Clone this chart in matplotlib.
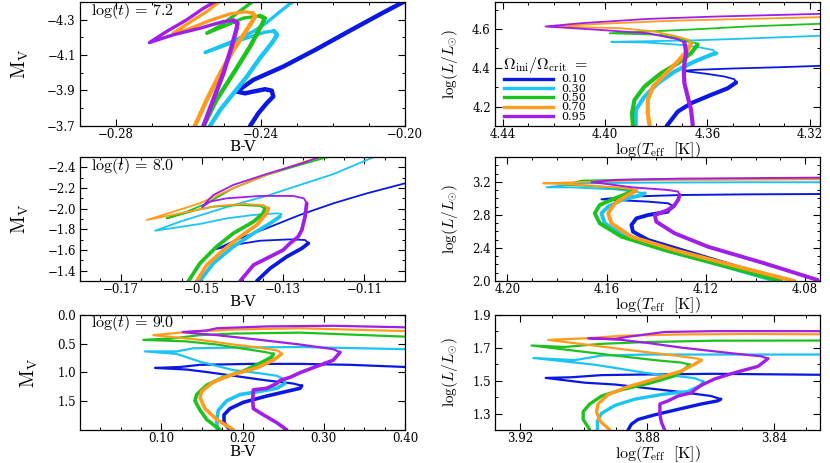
import matplotlib
matplotlib.use("Agg")
import matplotlib.pyplot as plt
from matplotlib.lines import Line2D
from matplotlib.ticker import MultipleLocator, FuncFormatter

plt.rcParams['font.family'] = ['DejaVu Serif']
plt.rcParams['mathtext.fontset'] = 'cm'

omegas = ['0.10', '0.30', '0.50', '0.70', '0.95']
colors = ['#0b19e0', '#1cc4f4', '#1ec21e', '#ff9c1e', '#a01ee6']

# log(t) = 7.2, colour-magnitude diagram (one list per Omega)
cmd72_bv = [
    [-0.2429, -0.2406, -0.2383, -0.2365, -0.2369, -0.2388, -0.2420, -0.2443, -0.2466, -0.2420, -0.2337, -0.2245, -0.2152, -0.2060, -0.2000],
    [-0.2540, -0.2512, -0.2475, -0.2438, -0.2402, -0.2369, -0.2354, -0.2363, -0.2388, -0.2475, -0.2554, -0.2475, -0.2420, -0.2383, -0.2346, -0.2305],
    [-0.2558, -0.2522, -0.2475, -0.2429, -0.2397, -0.2388, -0.2402, -0.2448, -0.2503, -0.2549, -0.2512, -0.2475, -0.2438, -0.2415],
    [-0.2582, -0.2549, -0.2512, -0.2475, -0.2438, -0.2415, -0.2422, -0.2443, -0.2485, -0.2540, -0.2605, -0.2642, -0.2586, -0.2549, -0.2508],
    [-0.2558, -0.2531, -0.2503, -0.2480, -0.2466, -0.2464, -0.2475, -0.2503, -0.2568, -0.2642, -0.2708, -0.2660, -0.2605, -0.2558, -0.2517],
]
cmd72_mv = [
    [-3.700, -3.772, -3.828, -3.866, -3.899, -3.907, -3.894, -3.884, -3.894, -3.960, -4.035, -4.133, -4.238, -4.340, -4.404],
    [-3.700, -3.790, -3.884, -3.978, -4.082, -4.167, -4.214, -4.236, -4.229, -4.172, -4.114, -4.180, -4.233, -4.283, -4.345, -4.411],
    [-3.700, -3.847, -3.997, -4.148, -4.270, -4.308, -4.321, -4.308, -4.261, -4.223, -4.265, -4.321, -4.377, -4.411],
    [-3.700, -3.847, -3.997, -4.129, -4.242, -4.317, -4.336, -4.344, -4.332, -4.295, -4.242, -4.223, -4.298, -4.345, -4.411],
    [-3.700, -3.847, -3.997, -4.148, -4.251, -4.280, -4.295, -4.289, -4.251, -4.214, -4.170, -4.233, -4.298, -4.364, -4.411],
]

# log(t) = 7.2, HR diagram
hrd72_teff = [
    [4.3759, 4.3716, 4.3664, 4.3586, 4.3521, 4.3488, 4.3495, 4.3534, 4.3599, 4.3664, 4.3696, 4.3651, 4.3508, 4.3313, 4.3160],
    [4.3880, 4.3880, 4.3846, 4.3794, 4.3729, 4.3651, 4.3586, 4.3566, 4.3579, 4.3625, 4.3703, 4.3833, 4.3976, 4.3833, 4.3638, 4.3443, 4.3160],
    [4.3891, 4.3895, 4.3885, 4.3846, 4.3781, 4.3716, 4.3664, 4.3638, 4.3644, 4.3677, 4.3716, 4.3781, 4.3982, 4.3833, 4.3638, 4.3443, 4.3160],
    [4.3826, 4.3833, 4.3833, 4.3813, 4.3768, 4.3716, 4.3677, 4.3664, 4.3674, 4.3716, 4.3807, 4.3937, 4.4222, 4.3963, 4.3703, 4.3443, 4.3160],
    [4.3657, 4.3664, 4.3677, 4.3690, 4.3692, 4.3690, 4.3683, 4.3687, 4.3690, 4.3716, 4.3833, 4.4027, 4.4233, 4.4092, 4.3833, 4.3573, 4.3160],
]
hrd72_lum = [
    [4.100, 4.174, 4.217, 4.260, 4.294, 4.324, 4.341, 4.355, 4.368, 4.379, 4.384, 4.389, 4.396, 4.403, 4.410],
    [4.100, 4.183, 4.251, 4.320, 4.380, 4.432, 4.467, 4.475, 4.492, 4.504, 4.518, 4.530, 4.534, 4.537, 4.542, 4.551, 4.565],
    [4.100, 4.165, 4.234, 4.303, 4.372, 4.423, 4.475, 4.520, 4.527, 4.535, 4.553, 4.570, 4.578, 4.587, 4.599, 4.613, 4.627],
    [4.100, 4.165, 4.234, 4.303, 4.363, 4.432, 4.492, 4.527, 4.544, 4.561, 4.587, 4.604, 4.613, 4.630, 4.644, 4.652, 4.661],
    [4.100, 4.183, 4.251, 4.320, 4.380, 4.423, 4.475, 4.510, 4.530, 4.547, 4.578, 4.596, 4.613, 4.630, 4.652, 4.664, 4.678],
]

# log(t) = 8.0
cmd80_bv = [
    [-0.1365, -0.1332, -0.1291, -0.1254, -0.1238, -0.1246, -0.1283, -0.1357, -0.1423, -0.1464, -0.1406, -0.1341, -0.1259, -0.1176, -0.1094, -0.1000],
    [-0.1505, -0.1472, -0.1423, -0.1373, -0.1332, -0.1308, -0.1304, -0.1316, -0.1373, -0.1439, -0.1505, -0.1615, -0.1554, -0.1488, -0.1423, -0.1341, -0.1259, -0.1176, -0.1078],
    [-0.1533, -0.1505, -0.1464, -0.1423, -0.1373, -0.1349, -0.1345, -0.1357, -0.1406, -0.1472, -0.1513, -0.1587, -0.1537, -0.1488, -0.1423, -0.1341, -0.1259, -0.1189],
    [-0.1513, -0.1488, -0.1447, -0.1406, -0.1365, -0.1341, -0.1336, -0.1349, -0.1398, -0.1464, -0.1513, -0.1636, -0.1570, -0.1505, -0.1423, -0.1341, -0.1259, -0.1209],
    [-0.1406, -0.1390, -0.1373, -0.1332, -0.1300, -0.1283, -0.1263, -0.1254, -0.1246, -0.1242, -0.1249, -0.1275, -0.1357, -0.1439, -0.1480, -0.1500, -0.1484, -0.1472, -0.1423, -0.1341, -0.1259, -0.1209],
]
cmd80_mv = [
    [-1.300, -1.423, -1.536, -1.616, -1.665, -1.697, -1.703, -1.690, -1.648, -1.610, -1.713, -1.810, -1.939, -2.052, -2.148, -2.245],
    [-1.300, -1.471, -1.632, -1.761, -1.858, -1.923, -1.948, -1.955, -1.939, -1.906, -1.852, -1.787, -1.874, -1.955, -2.035, -2.123, -2.229, -2.335, -2.497],
    [-1.300, -1.471, -1.632, -1.761, -1.874, -1.955, -2.003, -2.026, -2.035, -2.019, -1.987, -1.906, -1.971, -2.052, -2.197, -2.326, -2.423, -2.500],
    [-1.300, -1.455, -1.600, -1.729, -1.842, -1.955, -2.003, -2.035, -2.045, -2.026, -1.987, -1.890, -1.971, -2.052, -2.197, -2.326, -2.439, -2.500],
    [-1.300, -1.374, -1.455, -1.536, -1.600, -1.665, -1.729, -1.794, -1.923, -2.052, -2.100, -2.123, -2.123, -2.100, -2.068, -2.013, -2.084, -2.132, -2.229, -2.335, -2.432, -2.500],
]
hrd80_teff = [
    [4.0903, 4.1098, 4.1299, 4.1433, 4.1494, 4.1500, 4.1480, 4.1433, 4.1353, 4.1326, 4.1353, 4.1433, 4.1567, 4.1621, 4.1514, 4.1299, 4.1031, 4.0739],
    [4.0917, 4.1165, 4.1366, 4.1527, 4.1608, 4.1621, 4.1594, 4.1540, 4.1460, 4.1447, 4.1487, 4.1567, 4.1742, 4.1842, 4.1701, 4.1433, 4.1031, 4.0739],
    [4.0897, 4.1165, 4.1366, 4.1540, 4.1628, 4.1648, 4.1628, 4.1567, 4.1514, 4.1494, 4.1527, 4.1621, 4.1762, 4.1701, 4.1433, 4.0739],
    [4.0843, 4.1098, 4.1326, 4.1500, 4.1581, 4.1594, 4.1567, 4.1514, 4.1480, 4.1500, 4.1567, 4.1742, 4.1856, 4.1634, 4.1433, 4.0739],
    [4.0749, 4.0964, 4.1192, 4.1326, 4.1400, 4.1406, 4.1353, 4.1326, 4.1312, 4.1306, 4.1312, 4.1353, 4.1500, 4.1621, 4.1661, 4.1567, 4.1299, 4.0739],
]
hrd80_lum = [
    [2.000, 2.194, 2.375, 2.496, 2.597, 2.678, 2.758, 2.798, 2.839, 2.899, 2.940, 2.960, 2.980, 2.988, 3.020, 3.040, 3.048, 3.052],
    [2.000, 2.214, 2.375, 2.536, 2.698, 2.819, 2.899, 2.980, 3.040, 3.061, 3.081, 3.109, 3.133, 3.133, 3.182, 3.190, 3.194, 3.194],
    [2.000, 2.214, 2.375, 2.536, 2.698, 2.819, 2.919, 3.000, 3.061, 3.089, 3.109, 3.141, 3.165, 3.214, 3.230, 3.234],
    [2.000, 2.194, 2.375, 2.536, 2.698, 2.819, 2.940, 3.040, 3.093, 3.113, 3.133, 3.169, 3.182, 3.202, 3.222, 3.230],
    [2.012, 2.214, 2.415, 2.577, 2.718, 2.798, 2.859, 2.919, 2.980, 3.040, 3.081, 3.101, 3.133, 3.182, 3.194, 3.222, 3.238, 3.250],
]

# log(t) = 9.0
cmd90_bv = [
    [0.1846, 0.1772, 0.1772, 0.1846, 0.2010, 0.2297, 0.2544, 0.2708, 0.2728, 0.2626, 0.2297, 0.1887, 0.1559, 0.1313, 0.0923, 0.1231, 0.1477, 0.2092, 0.2708, 0.3323, 0.4012],
    [0.1690, 0.1682, 0.1703, 0.1805, 0.1969, 0.2215, 0.2421, 0.2523, 0.2503, 0.2421, 0.2215, 0.1887, 0.1477, 0.1190, 0.0800, 0.1190, 0.1395, 0.1887, 0.2708, 0.4012],
    [0.1723, 0.1559, 0.1477, 0.1415, 0.1436, 0.1559, 0.1764, 0.2010, 0.2215, 0.2359, 0.2380, 0.2297, 0.2051, 0.1682, 0.1313, 0.0779, 0.1149, 0.1477, 0.1887, 0.2708, 0.4012],
    [0.1887, 0.1682, 0.1538, 0.1477, 0.1497, 0.1641, 0.1887, 0.2174, 0.2380, 0.2482, 0.2441, 0.2215, 0.1887, 0.1477, 0.0903, 0.1313, 0.1887, 0.2708, 0.4012],
    [0.2544, 0.2421, 0.2256, 0.2133, 0.2125, 0.2133, 0.2297, 0.2421, 0.2462, 0.2585, 0.2708, 0.2913, 0.3118, 0.3200, 0.3118, 0.2708, 0.2215, 0.1682, 0.1313, 0.1264, 0.1559, 0.1682, 0.2297, 0.3118, 0.4012],
]
cmd90_mv = [
    [1.995, 1.870, 1.734, 1.626, 1.518, 1.409, 1.328, 1.274, 1.230, 1.192, 1.138, 1.057, 0.992, 0.949, 0.921, 0.905, 0.867, 0.851, 0.851, 0.867, 0.905],
    [1.995, 1.816, 1.653, 1.491, 1.382, 1.328, 1.274, 1.192, 1.111, 1.057, 1.014, 0.959, 0.813, 0.678, 0.634, 0.634, 0.580, 0.569, 0.558, 0.596],
    [1.995, 1.816, 1.653, 1.491, 1.382, 1.220, 1.084, 0.976, 0.840, 0.732, 0.678, 0.650, 0.596, 0.515, 0.461, 0.434, 0.407, 0.352, 0.325, 0.309, 0.379],
    [1.995, 1.816, 1.626, 1.436, 1.328, 1.165, 1.030, 0.921, 0.786, 0.678, 0.623, 0.569, 0.515, 0.434, 0.352, 0.298, 0.255, 0.233, 0.282],
    [1.995, 1.870, 1.734, 1.626, 1.491, 1.301, 1.274, 1.192, 1.138, 1.084, 1.003, 0.894, 0.786, 0.650, 0.596, 0.515, 0.434, 0.352, 0.309, 0.298, 0.271, 0.233, 0.201, 0.190, 0.217],
]
hrd90_teff = [
    [3.8860, 3.8850, 3.8829, 3.8776, 3.8692, 3.8629, 3.8577, 3.8568, 3.8598, 3.8692, 3.8797, 3.8902, 3.8997, 3.9120, 3.9039, 3.8944, 3.8797, 3.8587, 3.8253],
    [3.8957, 3.8957, 3.8944, 3.8902, 3.8839, 3.8755, 3.8671, 3.8629, 3.8624, 3.8650, 3.8713, 3.8797, 3.8902, 3.8965, 3.9159, 3.9028, 3.8944, 3.8797, 3.8587, 3.8253],
    [3.8981, 3.9002, 3.9002, 3.8981, 3.8944, 3.8881, 3.8797, 3.8713, 3.8676, 3.8666, 3.8692, 3.8776, 3.8902, 3.9028, 3.9165, 3.9060, 3.8944, 3.8797, 3.8587, 3.8253],
    [3.8918, 3.8949, 3.8960, 3.8955, 3.8923, 3.8860, 3.8776, 3.8692, 3.8645, 3.8629, 3.8640, 3.8713, 3.8839, 3.8955, 3.9112, 3.8986, 3.8881, 3.8692, 3.8482, 3.8253],
    [3.8745, 3.8755, 3.8760, 3.8760, 3.8734, 3.8703, 3.8661, 3.8650, 3.8629, 3.8587, 3.8524, 3.8451, 3.8419, 3.8440, 3.8535, 3.8692, 3.8797, 3.8881, 3.8986, 3.8902, 3.8860, 3.8745, 3.8587, 3.8253],
]
hrd90_lum = [
    [1.202, 1.236, 1.265, 1.293, 1.331, 1.359, 1.378, 1.388, 1.407, 1.431, 1.454, 1.477, 1.488, 1.517, 1.521, 1.534, 1.538, 1.542, 1.536],
    [1.202, 1.255, 1.302, 1.350, 1.388, 1.416, 1.435, 1.473, 1.496, 1.515, 1.530, 1.545, 1.578, 1.597, 1.638, 1.625, 1.653, 1.659, 1.659, 1.659],
    [1.202, 1.265, 1.312, 1.359, 1.407, 1.445, 1.483, 1.530, 1.578, 1.597, 1.610, 1.625, 1.653, 1.682, 1.714, 1.705, 1.724, 1.735, 1.743, 1.744],
    [1.202, 1.255, 1.312, 1.359, 1.416, 1.464, 1.511, 1.559, 1.606, 1.625, 1.634, 1.653, 1.682, 1.710, 1.748, 1.758, 1.773, 1.781, 1.784, 1.782],
    [1.202, 1.246, 1.293, 1.359, 1.378, 1.407, 1.426, 1.445, 1.473, 1.511, 1.549, 1.587, 1.634, 1.648, 1.667, 1.701, 1.729, 1.748, 1.758, 1.754, 1.767, 1.796, 1.801, 1.801],
]

# number of points drawn thick (main sequence up to the turn-off hook)
splits72c = [15, 8, 7, 7, 7]
splits72h = [6, 8, 8, 8, 9]
splits80c = [5, 6, 7, 7, 10]
splits80h = [9, 10, 10, 9, 10]
splits90c = [9, 8, 11, 10, 14]
splits90h = [8, 9, 10, 10, 13]

fig = plt.figure(figsize=(8.3, 4.63), dpi=100)

left_x, right_x, w = 0.0964, 0.5964, 0.3916
row_b = [0.728, 0.393, 0.071]
row_h = [0.268, 0.268, 0.249]


def fmt(decimals):
    return FuncFormatter(lambda v, pos: f'{v:.{decimals}f}'.replace('-', '\u2212'))


def draw(ax, xs, ys, splits, lw_thick, lw_thin):
    for x, y, n, c in zip(xs, ys, splits, colors):
        ax.plot(x[n - 1:], y[n - 1:], color=c, lw=lw_thin, solid_joinstyle='round', solid_capstyle='round')
        ax.plot(x[:n], y[:n], color=c, lw=lw_thick, solid_joinstyle='round', solid_capstyle='round')


def style(ax, xlim, ylim, xmaj, xmin, ymaj, ymin):
    ax.set_xlim(*xlim)
    ax.set_ylim(*ylim)
    ax.xaxis.set_major_locator(MultipleLocator(xmaj))
    ax.xaxis.set_minor_locator(MultipleLocator(xmin))
    ax.yaxis.set_major_locator(MultipleLocator(ymaj))
    if ymin:
        ax.yaxis.set_minor_locator(MultipleLocator(ymin))
    ax.xaxis.set_major_formatter(fmt(2))
    ax.yaxis.set_major_formatter(fmt(1))
    ax.tick_params(which='both', direction='in', top=True, right=True, labelsize=8.5)
    ax.tick_params(axis='x', pad=1.5)
    ax.tick_params(axis='y', pad=3)
    ax.tick_params(which='major', length=5, width=0.8)
    ax.tick_params(which='minor', length=2.5, width=0.7)
    for s in ax.spines.values():
        s.set_linewidth(0.9)


def cmd_labels(ax, age):
    ax.set_xlabel('B-V', fontsize=11, labelpad=-0.5)
    ax.set_ylabel(r'$\mathrm{M_V}$', fontsize=14, labelpad=12)
    ax.text(0.035, 0.925, r'$\log(t)\,=\,' + age + '$', transform=ax.transAxes, fontsize=11.5, va='center')


def hrd_labels(ax):
    ax.set_xlabel(r'$\log(T_{\mathrm{eff}}\ \ [\mathrm{K}])$', fontsize=11.5, labelpad=-1)
    ax.set_ylabel(r'$\log(L/L_{\odot})$', fontsize=11, labelpad=9)


ax1 = fig.add_axes([left_x, row_b[0], w, row_h[0]])
draw(ax1, cmd72_bv, cmd72_mv, splits72c, 3.2, 2.4)
style(ax1, (-0.29, -0.20), (-3.7, -4.4), 0.04, 0.01, 0.2, 0.1)
ax1.set_yticks([-4.3, -4.1, -3.9, -3.7])
cmd_labels(ax1, '7.2')

ax2 = fig.add_axes([right_x, row_b[0], w, row_h[0]])
draw(ax2, hrd72_teff, hrd72_lum, splits72h, 3.0, 1.3)
style(ax2, (4.443, 4.316), (4.1, 4.74), 0.04, 0.01, 0.2, 0.1)
hrd_labels(ax2)

ax3 = fig.add_axes([left_x, row_b[1], w, row_h[1]])
draw(ax3, cmd80_bv, cmd80_mv, splits80c, 2.7, 1.3)
style(ax3, (-0.18, -0.10), (-1.3, -2.5), 0.02, 0.005, 0.2, 0.1)
ax3.set_xticks([-0.17, -0.15, -0.13, -0.11])
ax3.set_yticks([-2.4, -2.2, -2.0, -1.8, -1.6, -1.4])
cmd_labels(ax3, '8.0')

ax4 = fig.add_axes([right_x, row_b[1], w, row_h[1]])
draw(ax4, hrd80_teff, hrd80_lum, splits80h, 2.8, 1.4)
style(ax4, (4.205, 4.074), (2.0, 3.5), 0.04, 0.01, 0.4, 0.1)
ax4.set_xticks([4.20, 4.16, 4.12, 4.08])
hrd_labels(ax4)

ax5 = fig.add_axes([left_x, row_b[2], w, row_h[2]])
draw(ax5, cmd90_bv, cmd90_mv, splits90c, 2.6, 1.6)
style(ax5, (0.0, 0.4), (2.0, 0.0), 0.1, 0.025, 0.5, None)
ax5.set_xticks([0.1, 0.2, 0.3, 0.4])
ax5.set_yticks([0.0, 0.5, 1.0, 1.5])
cmd_labels(ax5, '9.0')

ax6 = fig.add_axes([right_x, row_b[2], w, row_h[2]])
draw(ax6, hrd90_teff, hrd90_lum, splits90h, 2.4, 1.6)
style(ax6, (3.928, 3.8255), (1.2, 1.9), 0.04, 0.01, 0.2, 0.1)
ax6.set_xticks([3.92, 3.88, 3.84])
ax6.set_yticks([1.3, 1.5, 1.7, 1.9])
hrd_labels(ax6)

handles = [Line2D([], [], color=c, lw=2.4) for c in colors]
leg = ax2.legend(handles, omegas, title=r'$\Omega_{\mathrm{ini}}/\Omega_{\mathrm{crit}}\ =$',
                 loc='lower left', bbox_to_anchor=(0.0, -0.03), frameon=False,
                 fontsize=8, title_fontsize=11.5, handlelength=4.4, labelspacing=-0.05,
                 handletextpad=0.8, borderpad=0.2, handleheight=0.5)

fig.savefig('out.png', dpi=100)
